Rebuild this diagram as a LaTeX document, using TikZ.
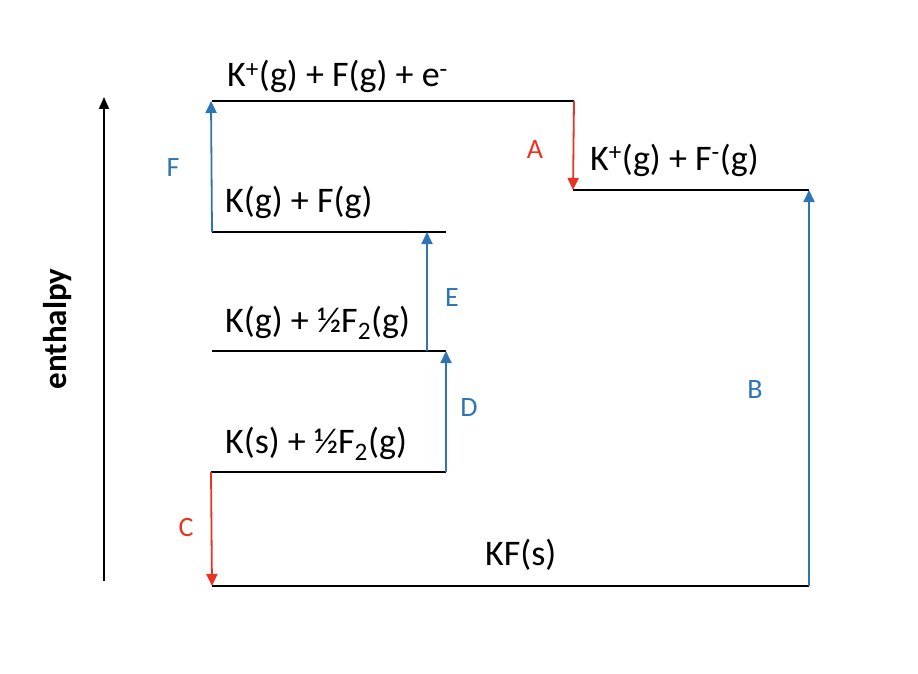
\documentclass[tikz,border=0pt]{standalone}
\usepackage{fontspec}
\setmainfont{Carlito}
\usepackage{tikz}
\usetikzlibrary{arrows.meta}
\definecolor{stepblue}{RGB}{46,117,182}
\definecolor{stepred}{RGB}{233,52,35}
\tikzset{
  level/.style={line width=2pt,black},
  uparrow/.style={line width=1.8pt,stepblue,-{Triangle[length=12pt,width=11pt]}},
  downarrow/.style={line width=1.8pt,stepred,-{Triangle[length=12pt,width=11pt]}},
  species/.style={anchor=base west,inner sep=0pt,font=\fontsize{36}{40}\selectfont},
  letter/.style={inner sep=0pt,font=\fontsize{28}{32}\selectfont}
}
\begin{document}
\begin{tikzpicture}[x=1pt,y=-1pt]
  \useasboundingbox (0,0) rectangle (918,674);
  % level end points
  \coordinate (top-l) at (212,101);   \coordinate (top-r) at (574,101);
  \coordinate (ion-l) at (573,190);   \coordinate (ion-r) at (809,190);
  \coordinate (gas-l) at (212,232);   \coordinate (gas-r) at (446,232);
  \coordinate (half-l) at (212,351);  \coordinate (half-r) at (446,351);
  \coordinate (sol-l) at (211,472);   \coordinate (sol-r) at (446,472);
  \coordinate (kf-l) at (212,586);    \coordinate (kf-r) at (809,586);
  \coordinate (axis-b) at (104,581);  \coordinate (axis-t) at (104,97);
  % levels
  \draw[level] (top-l) -- (top-r);
  \draw[level] (ion-l) -- (ion-r);
  \draw[level] (gas-l) -- (gas-r);
  \draw[level] (half-l) -- (half-r);
  \draw[level] (sol-l) -- (sol-r);
  \draw[level] (kf-l) -- (kf-r);
  % species
  \draw (227,87) node[species] (top) {K\textsuperscript{+}(g) + F(g) + e\textsuperscript{-}};
  \draw (590,170) node[species] (ion) {K\textsuperscript{+}(g) + F\textsuperscript{-}(g)};
  \draw (225,212) node[species] (gas) {K(g) + F(g)};
  \draw (225,332) node[species] (half) {K(g) + ½F\textsubscript{2}(g)};
  \draw (225,453) node[species] (sol) {K(s) + ½F\textsubscript{2}(g)};
  \draw (485,565) node[species] (kf) {KF(s)};
  % steps
  \draw[downarrow] (top-r) -- (ion-l);
  \draw[uparrow] (kf-r) -- (ion-r);
  \draw[downarrow] (sol-l) -- (kf-l);
  \draw[uparrow] (sol-r) -- (half-r);
  \draw[uparrow] ([xshift=-19pt]half-r) -- ([xshift=-19pt]gas-r);
  \draw[uparrow] (gas-l) -- ([xshift=-1pt]top-l);
  \draw (535,150) node[letter,stepred] (A) {A};
  \draw (755,390) node[letter,stepblue] (B) {B};
  \draw (186,528) node[letter,stepred] (C) {C};
  \draw (469,408) node[letter,stepblue] (D) {D};
  \draw (452,298) node[letter,stepblue] (E) {E};
  \draw (173,168) node[letter,stepblue] (F) {F};
  % enthalpy axis
  \draw[line width=1.8pt,-{Triangle[length=12pt,width=10pt]}] (axis-b) -- (axis-t);
  \draw (58,329) node[rotate=90,inner sep=0pt,font=\bfseries\fontsize{33}{36}\selectfont] (enthalpy) {enthalpy};
\end{tikzpicture}
\end{document}
